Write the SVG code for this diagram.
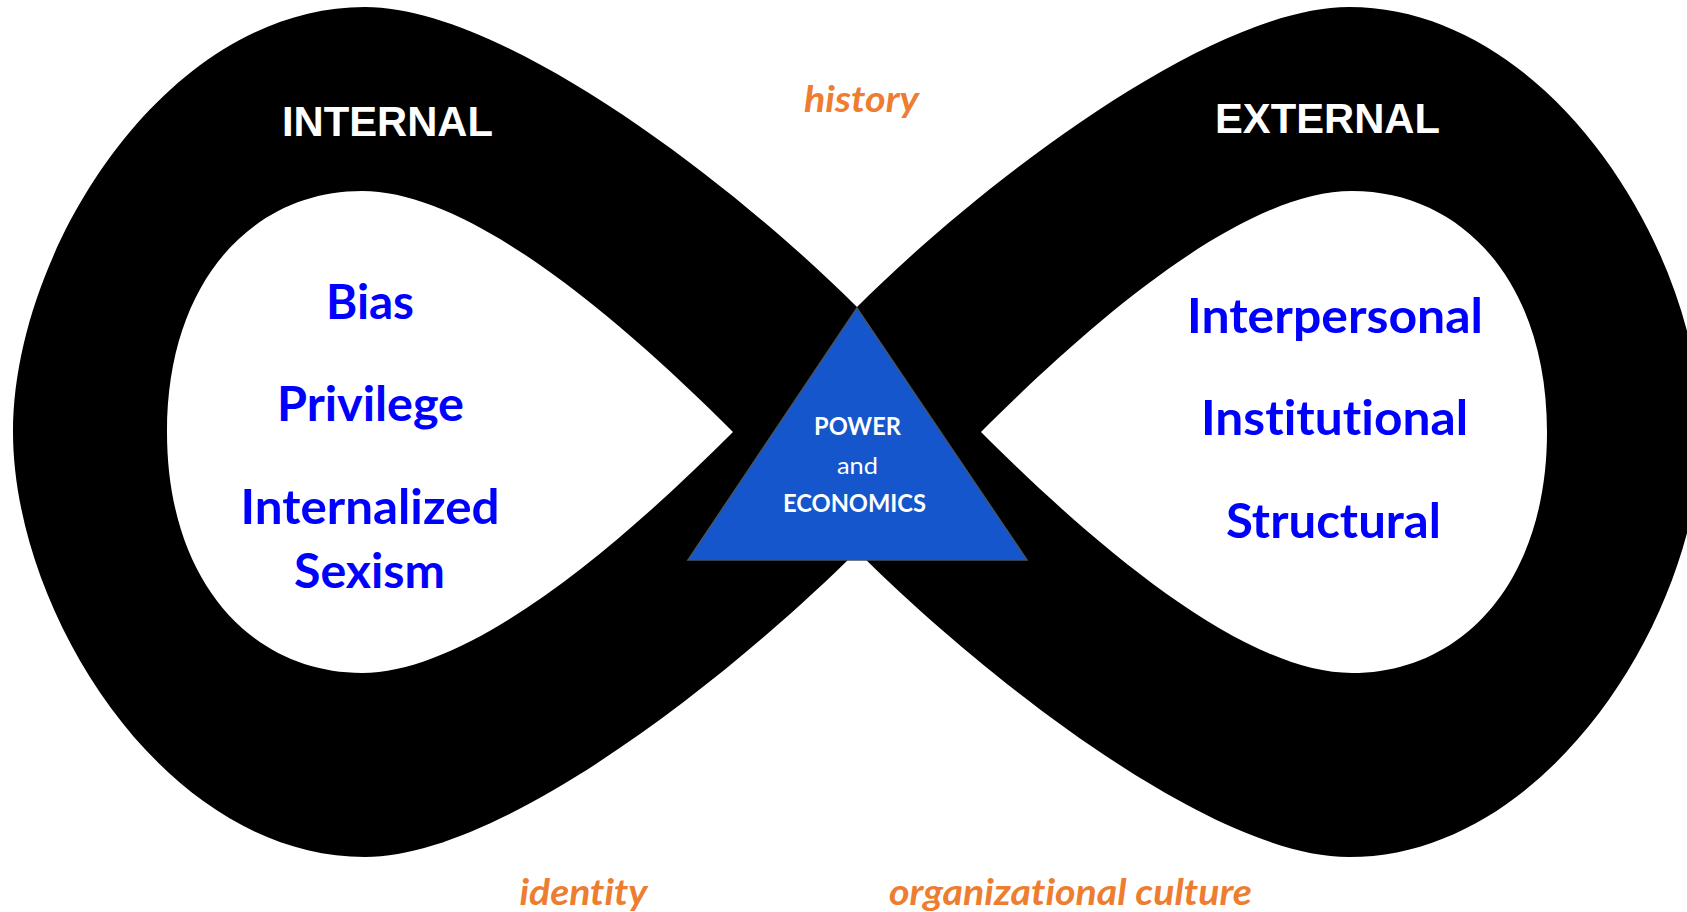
<svg xmlns="http://www.w3.org/2000/svg" width="1687" height="912" viewBox="0 0 1687 912">
  <style>
    text { font-variant-ligatures: none; }
    .band { fill: #000000; fill-rule: evenodd; }
    .side { font-family: "Liberation Sans", Arial, sans-serif; font-weight: bold; font-size: 42px; fill: #ffffff; text-anchor: middle; }
    .item { font-family: Lato, "Noto Sans", sans-serif; font-weight: bold; font-size: 47px; fill: #0000ff; text-anchor: middle; }
    .ctx { font-family: Lato, "Noto Sans", sans-serif; font-weight: bold; font-style: italic; font-size: 37px; fill: #ed7d31; text-anchor: middle; }
    .core { fill: #1556cc; stroke: #44546a; stroke-width: 1.5; }
    .coreText { font-family: Lato, "Noto Sans", sans-serif; font-size: 24px; fill: #ffffff; text-anchor: middle; }
  </style>

  <rect x="0" y="0" width="1687" height="912" fill="#ffffff"/>

  <!-- infinity band: outer outline minus the two teardrop holes -->
  <g id="infinity-band">
    <path class="band" d="
      M 857,307
      C 737,187 505,7 365,7
      C 165,7 13,252 13,432
      C 13,612 165,857 365,857
      C 505,857 737,671 857,551
      C 977,671 1209,857 1349,857
      C 1549,857 1701,612 1701,432
      C 1701,252 1549,7 1349,7
      C 1209,7 977,187 857,307 Z
      M 733,432
      C 623,322 472,191 362,191
      C 252,191 167,282 167,432
      C 167,582 252,673 362,673
      C 472,673 623,542 733,432 Z
      M 981,432
      C 1091,322 1242,191 1352,191
      C 1462,191 1547,282 1547,432
      C 1547,582 1462,673 1352,673
      C 1242,673 1091,542 981,432 Z"/>
  </g>

  <g id="internal">
    <text class="side" x="387.5" y="136" textLength="211" lengthAdjust="spacingAndGlyphs">INTERNAL</text>
    <text class="item" x="370" y="319" textLength="88" lengthAdjust="spacingAndGlyphs">Bias</text>
    <text class="item" x="370.5" y="421" textLength="187" lengthAdjust="spacingAndGlyphs">Privilege</text>
    <text class="item" x="370" y="524" textLength="259" lengthAdjust="spacingAndGlyphs">Internalized</text>
    <text class="item" x="369.5" y="588" textLength="151" lengthAdjust="spacingAndGlyphs">Sexism</text>
  </g>

  <g id="external">
    <text class="side" x="1327.5" y="133" textLength="225" lengthAdjust="spacingAndGlyphs">EXTERNAL</text>
    <text class="item" x="1335" y="333" textLength="296" lengthAdjust="spacingAndGlyphs">Interpersonal</text>
    <text class="item" x="1334.5" y="435" textLength="267" lengthAdjust="spacingAndGlyphs">Institutional</text>
    <text class="item" x="1333.5" y="538" textLength="215" lengthAdjust="spacingAndGlyphs">Structural</text>
  </g>

  <g id="power-economics">
    <polygon class="core" points="857,308 688,560 1027,560"/>
    <text class="coreText" x="857.5" y="435" font-weight="bold" textLength="87" lengthAdjust="spacingAndGlyphs">POWER</text>
    <text class="coreText" x="857.5" y="474" textLength="41" lengthAdjust="spacingAndGlyphs">and</text>
    <text class="coreText" x="854.5" y="512" font-weight="bold" textLength="143" lengthAdjust="spacingAndGlyphs">ECONOMICS</text>
  </g>

  <g id="history">
    <text class="ctx" x="861.5" y="112" textLength="115" lengthAdjust="spacingAndGlyphs">history</text>
  </g>
  <g id="identity">
    <text class="ctx" x="583.5" y="905" textLength="128" lengthAdjust="spacingAndGlyphs">identity</text>
  </g>
  <g id="organizational-culture">
    <text class="ctx" x="1070.5" y="905" textLength="363" lengthAdjust="spacingAndGlyphs">organizational culture</text>
  </g>
</svg>
